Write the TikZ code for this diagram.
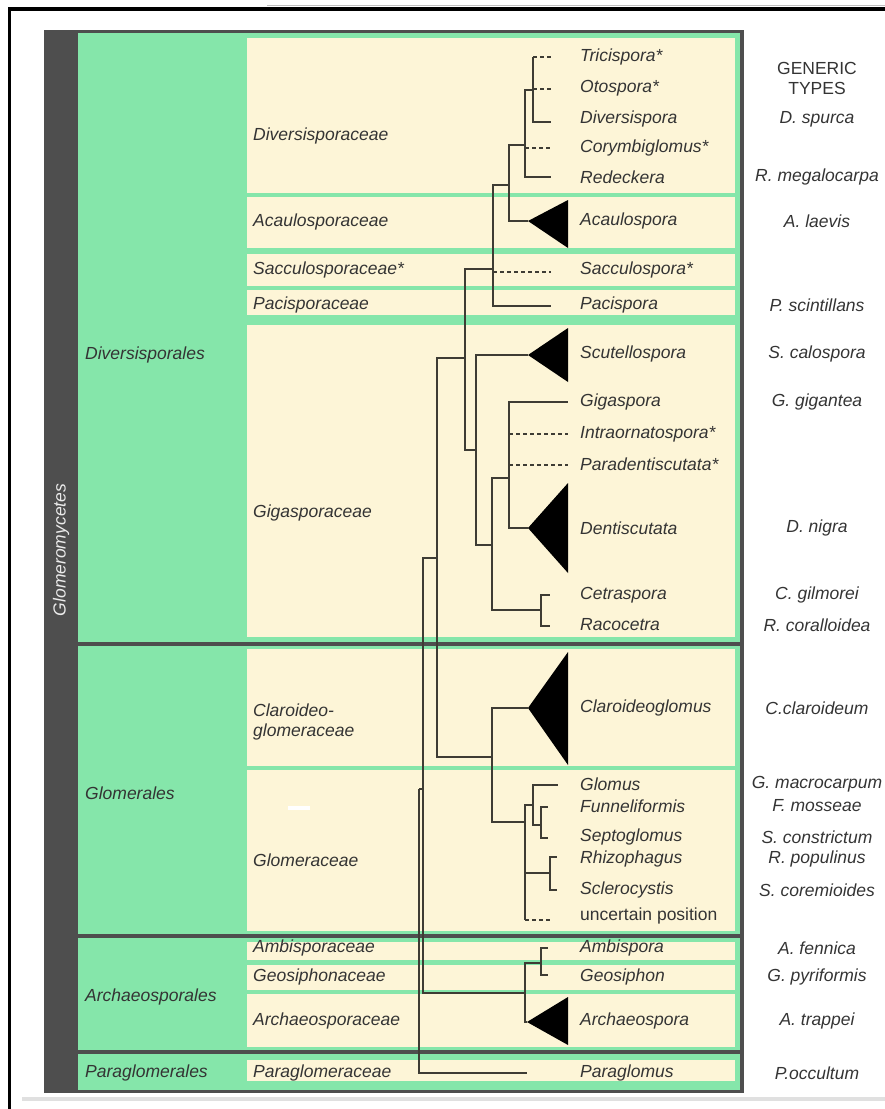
\documentclass[tikz,border=0pt]{standalone}
\usepackage{fontspec}
\setmainfont{Liberation Sans}
\definecolor{frame}{RGB}{78,78,78}
\definecolor{mint}{RGB}{133,230,170}
\definecolor{cream}{RGB}{253,245,215}
\definecolor{ink}{RGB}{52,52,52}
\definecolor{branch}{RGB}{62,60,52}

\begin{document}
\begin{tikzpicture}[x=1pt, y=-1pt, font=\fontsize{17.5}{20}\selectfont\itshape, text=ink]
\tikzstyle{box}=[fill=cream]
\tikzstyle{ord}=[fill=mint]
\tikzstyle{lab}=[anchor=west, inner sep=0pt]
\tikzstyle{typ}=[inner sep=0pt]
\tikzstyle{br}=[draw=branch, line width=1.6pt]
\tikzstyle{unc}=[br, dash pattern=on 4pt off 3pt]
\tikzstyle{elbow}=[to path={|- (\tikztotarget)}]
\tikzstyle{clade}=[fill=black]

\useasboundingbox (0,0) rectangle (885,1109);
\fill[black] (8,7) rectangle (885,11);
\fill[black] (8,7) rectangle (11,1109);
\draw[black!25, line width=0.8pt] (267,5) -- (885,5);
\fill[black!12] (22,1097) rectangle (885,1101);

\fill[frame] (44,30) rectangle (744,1093);
\fill[ord] (78,33)   rectangle (740,642);
\fill[ord] (78,646)  rectangle (740,934);
\fill[ord] (78,938)  rectangle (740,1050);
\fill[ord] (78,1054) rectangle (740,1090);

\fill[box] (247,38)   rectangle (735,193);
\fill[box] (247,197)  rectangle (735,248);
\fill[box] (247,254)  rectangle (735,286);
\fill[box] (247,290)  rectangle (735,315);
\fill[box] (247,325)  rectangle (735,637);
\fill[box] (247,649)  rectangle (735,766);
\fill[box] (247,770)  rectangle (735,931);
\fill[box] (247,942)  rectangle (735,960);
\fill[box] (247,965)  rectangle (735,990);
\fill[box] (247,994)  rectangle (735,1047);
\fill[box] (247,1060) rectangle (735,1081);
\fill[white] (288,806) rectangle (310,810);

\node[rotate=90, text=white!92!black] (glomeromycetes) at (61,550) {Glomeromycetes};

\node[lab] (diversisporales) at (85,355)  {Diversisporales};
\node[lab] (glomerales)      at (85,793)  {Glomerales};
\node[lab] (archaeosporales) at (85,997)  {Archaeosporales};
\node[lab] (paraglomerales)  at (85,1073) {Paraglomerales};

\node[lab] (diversisporaceae) at (253,136)  {Diversisporaceae};
\node[lab] (acaulosporaceae)  at (253,222)  {Acaulosporaceae};
\node[lab] (sacculosporaceae) at (253,270)  {Sacculosporaceae*};
\node[lab] (pacisporaceae)    at (253,305)  {Pacisporaceae};
\node[lab] (gigasporaceae)    at (253,513)  {Gigasporaceae};
\node[lab, align=left] (claroideoglomeraceae) at (253,722) {Claroideo-\\glomeraceae};
\node[lab] (glomeraceae)      at (253,860)  {Glomeraceae};
\node[lab] (ambisporaceae)    at (253,948)  {Ambisporaceae};
\node[lab] (geosiphonaceae)   at (253,977)  {Geosiphonaceae};
\node[lab] (archaeosporaceae) at (253,1021) {Archaeosporaceae};
\node[lab] (paraglomeraceae)  at (253,1073) {Paraglomeraceae};

\coordinate (root) at (419,789);
\coordinate (nA)   at (423,789);
\coordinate (nB)   at (437,558);
\coordinate (nArc) at (525,993);
\coordinate (nAmb) at (541,963);
\coordinate (nDiv) at (465,358);
\coordinate (nGlo) at (492,757);
\coordinate (nGlm) at (525,822);
\coordinate (nGls) at (533,805);
\coordinate (nFun) at (541,825);
\coordinate (nRhi) at (550,873);
\coordinate (nD)   at (493,269);
\coordinate (nE)   at (509,185);
\coordinate (nF)   at (525,145);
\coordinate (nG)   at (533,90);
\coordinate (nGig) at (476,450);
\coordinate (nH)   at (492,545);
\coordinate (nI)   at (509,478);
\coordinate (nCet) at (541,610);

\coordinate (tTri) at (551,57);
\coordinate (tOto) at (551,89);
\coordinate (tDvs) at (551,122);
\coordinate (tCor) at (551,148);
\coordinate (tRed) at (551,177);
\coordinate (tAca) at (528,221);
\coordinate (tSac) at (551,272);
\coordinate (tPac) at (551,306);
\coordinate (tScu) at (528,355);
\coordinate (tGig) at (568,402);
\coordinate (tInt) at (568,434);
\coordinate (tPar) at (568,465);
\coordinate (tDen) at (528,528);
\coordinate (tCet) at (550,595);
\coordinate (tRac) at (550,626);
\coordinate (tCla) at (528,708);
\coordinate (tGls) at (558,785);
\coordinate (tFun) at (548,807);
\coordinate (tSep) at (548,838);
\coordinate (tRhi) at (557,857);
\coordinate (tScl) at (557,890);
\coordinate (tUnc) at (550,920);
\coordinate (tAmb) at (548,948);
\coordinate (tGeo) at (548,975);
\coordinate (tArc) at (527,1022);
\coordinate (tPgl) at (527,1073);

\path[br]
(root) edge[elbow] (nA)
       edge[elbow] (tPgl)
(nA)   edge[elbow] (nB)
       edge[elbow] (nArc)
(nArc) edge[elbow] (nAmb)
       edge[elbow] (tArc)
(nAmb) edge[elbow] (tAmb)
       edge[elbow] (tGeo)
(nB)   edge[elbow] (nDiv)
       edge[elbow] (nGlo)
(nGlo) edge[elbow] (tCla)
       edge[elbow] (nGlm)
(nGlm) edge[elbow] (nGls)
       edge[elbow] (nRhi)
       edge[elbow] (tUnc -| nGlm)
(nGls) edge[elbow] (tGls)
       edge[elbow] (nFun)
(nFun) edge[elbow] (tFun)
       edge[elbow] (tSep)
(nRhi) edge[elbow] (tRhi)
       edge[elbow] (tScl)
(nDiv) edge[elbow] (nD)
       edge[elbow] (nGig)
(nD)   edge[elbow] (nE)
       edge[elbow] (tPac)
(nE)   edge[elbow] (nF)
       edge[elbow] (tAca)
(nF)   edge[elbow] (nG)
       edge[elbow] (tRed)
(nG)   edge[elbow] (tDvs)
       edge[elbow] (tTri -| nG)
(nGig) edge[elbow] (tScu)
       edge[elbow] (nH)
(nH)   edge[elbow] (nI)
       edge[elbow] (nCet)
(nCet) edge[elbow] (tCet)
       edge[elbow] (tRac)
(nI)   edge[elbow] (tGig)
       edge[elbow] (tDen);

\path[unc]
(tTri -| nG)   edge (tTri)
(tOto -| nG)   edge (tOto)
(tCor -| nF)   edge (tCor)
(tSac -| nD)   edge (tSac)
(tInt -| nI)   edge (tInt)
(tPar -| nI)   edge (tPar)
(tUnc -| nGlm) edge (tUnc);

\fill[clade] (tAca) -- (568,200) -- (568,248) -- cycle;
\fill[clade] (tScu) -- (568,328) -- (568,382) -- cycle;
\fill[clade] (tDen) -- (568,483) -- (568,573) -- cycle;
\fill[clade] (tCla) -- (568,652) -- (568,765) -- cycle;
\fill[clade] (tArc) -- (568,997) -- (568,1045) -- cycle;

\node[lab] (tricispora)       at (580,57)   {Tricispora*};
\node[lab] (otospora)         at (580,88)   {Otospora*};
\node[lab] (diversispora)     at (580,119)  {Diversispora};
\node[lab] (corymbiglomus)    at (580,148)  {Corymbiglomus*};
\node[lab] (redeckera)        at (580,177)  {Redeckera};
\node[lab] (acaulospora)      at (580,221)  {Acaulospora};
\node[lab] (sacculospora)     at (580,270)  {Sacculospora*};
\node[lab] (pacispora)        at (580,305)  {Pacispora};
\node[lab] (scutellospora)    at (580,354)  {Scutellospora};
\node[lab] (gigaspora)        at (580,402)  {Gigaspora};
\node[lab] (intraornatospora) at (580,434)  {Intraornatospora*};
\node[lab] (paradentiscutata) at (580,464)  {Paradentiscutata*};
\node[lab] (dentiscutata)     at (580,528)  {Dentiscutata};
\node[lab] (cetraspora)       at (580,595)  {Cetraspora};
\node[lab] (racocetra)        at (580,625)  {Racocetra};
\node[lab] (claroideoglomus)  at (580,708)  {Claroideoglomus};
\node[lab] (glomus)           at (580,784)  {Glomus};
\node[lab] (funneliformis)    at (580,806)  {Funneliformis};
\node[lab] (septoglomus)      at (580,837)  {Septoglomus};
\node[lab] (rhizophagus)      at (580,859)  {Rhizophagus};
\node[lab] (sclerocystis)     at (580,890)  {Sclerocystis};
\node[lab, font=\fontsize{17.5}{20}\selectfont\upshape] (uncertain) at (580,916) {uncertain position};
\node[lab] (ambispora)        at (580,948)  {Ambispora};
\node[lab] (geosiphon)        at (580,977)  {Geosiphon};
\node[lab] (archaeospora)     at (580,1021) {Archaeospora};
\node[lab] (paraglomus)       at (580,1073) {Paraglomus};

\node[typ, align=center, font=\fontsize{17.5}{20}\selectfont\upshape] (generic) at (817,78) {GENERIC\\TYPES};
\node[typ] (dspurca)        at (817,119)  {D. spurca};
\node[typ] (rmegalocarpa)   at (817,177)  {R. megalocarpa};
\node[typ] (alaevis)        at (817,221)  {A. laevis};
\node[typ] (pscintillans)   at (817,305)  {P. scintillans};
\node[typ] (scalospora)     at (817,354)  {S. calospora};
\node[typ] (ggigantea)      at (817,402)  {G. gigantea};
\node[typ] (dnigra)         at (817,528)  {D. nigra};
\node[typ] (cgilmorei)      at (817,595)  {C. gilmorei};
\node[typ] (rcoralloidea)   at (817,625)  {R. coralloidea};
\node[typ] (cclaroideum)    at (817,708)  {C.claroideum};
\node[typ] (gmacrocarpum)   at (817,784)  {G. macrocarpum};
\node[typ] (fmosseae)       at (817,806)  {F. mosseae};
\node[typ] (sconstrictum)   at (817,837)  {S. constrictum};
\node[typ] (rpopulinus)     at (817,859)  {R. populinus};
\node[typ] (scoremioides)   at (817,890)  {S. coremioides};
\node[typ] (afennica)       at (817,948)  {A. fennica};
\node[typ] (gpyriformis)    at (817,977)  {G. pyriformis};
\node[typ] (atrappei)       at (817,1021) {A. trappei};
\node[typ] (poccultum)      at (817,1073) {P.occultum};
\end{tikzpicture}
\end{document}
